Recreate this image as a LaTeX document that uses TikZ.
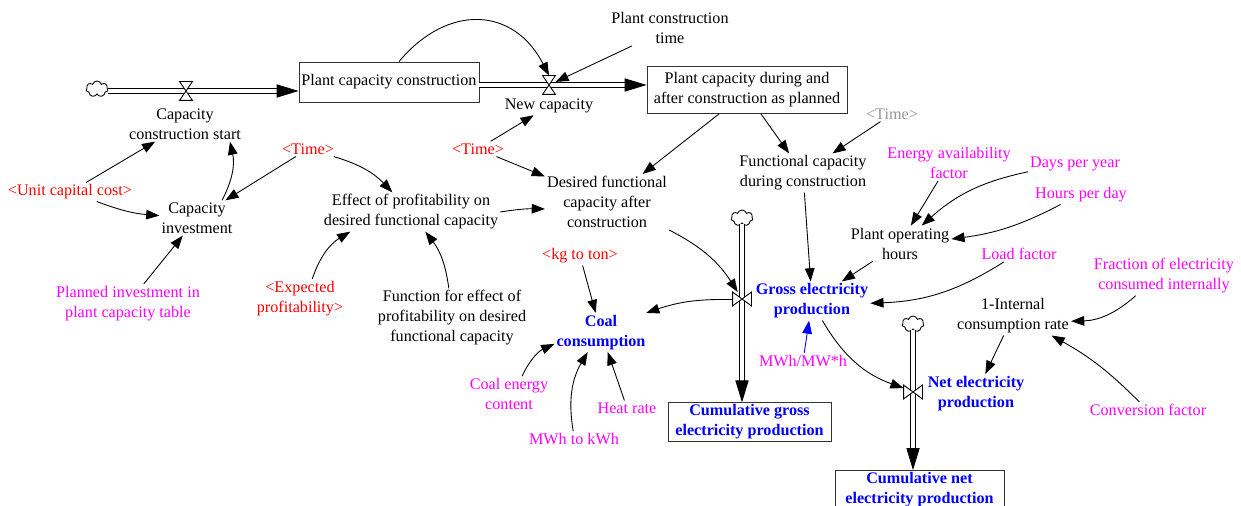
\documentclass[tikz,border=0pt]{standalone}
\usepackage{fontspec}
\setmainfont{Liberation Serif}
\usetikzlibrary{arrows.meta,shapes.symbols}
\definecolor{vred}{RGB}{255,0,0}
\definecolor{vmag}{RGB}{255,0,255}
\definecolor{vblue}{RGB}{0,0,255}
\definecolor{vgrey}{RGB}{150,150,150}
\begin{document}
\begin{tikzpicture}[x=0.02cm, y=0.02cm, ->, >={Triangle[length=7.5pt,width=5.5pt]}, line width=0.5pt,
    every node/.style={font=\fontsize{9.2}{11.4}\selectfont, align=center, inner sep=1pt},
    ghost/.style={text=vred},
    greyghost/.style={text=vgrey},
    const/.style={text=vmag},
    flowvar/.style={text=vblue, font=\fontsize{9.2}{11.4}\selectfont\bfseries},
    stock/.style={draw=black!80, minimum height=0.8cm},
    src/.style={cloud, cloud puffs=7, draw, minimum width=0.44cm, minimum height=0.32cm, inner sep=0},
    hvalve/.style={minimum width=0.24cm, minimum height=0.36cm, inner sep=0},
    vvalve/.style={minimum width=0.36cm, minimum height=0.26cm, inner sep=0},
    pipe/.style={double, double distance=2.2pt, -{Triangle[length=12.5pt,width=7.5pt]}}]
    \useasboundingbox (0,0) rectangle (1241,506);
    %stocks
    \node[stock, minimum width=3.6cm] at (389,424) (pcc) {Plant capacity construction};
    \node[stock, minimum width=4cm, minimum height=0.94cm] at (747,416) (pcdac) {Plant capacity during and\\after construction as planned};
    \node[stock, flowvar, minimum width=3.26cm, minimum height=0.76cm] at (749.5,84) (cgep) {Cumulative gross\\electricity production};
    \node[stock, flowvar, minimum width=3.38cm, minimum height=0.78cm] at (919.5,16) (cnep) {Cumulative net\\electricity production};
    %clouds and valves
    \node[src] at (97,417) (cl1) {};
    \node[src] at (742,288) (cl2) {};
    \node[src] at (913,182) (cl3) {};
    \node[hvalve] at (186,415) (v1) {};
    \node[hvalve] at (549,421) (v2) {};
    \node[vvalve] at (742,207) (v3) {};
    \node[vvalve] at (913,114) (v4) {};
    %variables
    \node at (185,382) (ccs) {Capacity\\construction start};
    \node at (549,400) (ncap) {New capacity};
    \node at (670,478) (pct) {Plant construction\\time};
    \node[ghost] at (478,357) (time1) {<Time>};
    \node at (607,304) (dfc) {Desired functional\\capacity after\\construction};
    \node[greyghost] at (892,392) (time3) {<Time>};
    \node at (803,333) (fcdc) {Functional capacity\\during construction};
    \node[ghost] at (308,357) (time2) {<Time>};
    \node[ghost] at (70,314) (ucc) {<Unit capital cost>};
    \node at (197,288) (ci) {Capacity\\investment};
    \node at (411,294) (eff) {Effect of profitability on\\desired functional capacity};
    \node[const] at (128,202.5) (pipt) {Planned investment in\\plant capacity table};
    \node[ghost] at (300,207.5) (ep) {<Expected\\profitability>};
    \node at (452,188) (fep) {Function for effect of\\profitability on desired\\functional capacity};
    \node[flowvar] at (812,205) (gep) {Gross electricity\\production};
    \node[flowvar] at (601,173.5) (cc) {Coal\\consumption};
    \node[ghost] at (580,250) (kg) {<kg to ton>};
    \node[const] at (509,112) (cec) {Coal energy\\content};
    \node[const] at (574,67) (mk) {MWh to kWh};
    \node[const] at (627,98) (hr) {Heat rate};
    \node[const] at (803,145) (mm) {MWh/MW*h};
    \node[flowvar] at (976,112.5) (nep) {Net electricity\\production};
    \node[const] at (949,343) (eaf) {Energy availability\\factor};
    \node[const] at (1075,342) (dpy) {Days per year};
    \node[const] at (1081,311) (hpd) {Hours per day};
    \node at (900,262.5) (poh) {Plant operating\\hours};
    \node[const] at (1019,252) (lf) {Load factor};
    \node at (1013,190) (icr) {1-Internal\\consumption rate};
    \node[const] at (1164,230) (fec) {Fraction of electricity\\consumed internally};
    \node[const] at (1148,96) (cf) {Conversion factor};
    %pipes
    \draw[pipe] (cl1.east |- v1) -- (pcc.west |- v1);
    \draw[pipe] (pcc.east |- v2) -- (pcdac.west |- v2);
    \draw[pipe] (cl2.south) -- (v3 |- cgep.north);
    \draw[pipe] (cl3.south) -- (v4 |- cnep.north);
    \foreach \v in {v1,v2}
        \draw[-, fill=white] (\v.north west) -- (\v.north east) -- (\v.south west) -- (\v.south east) -- cycle;
    \foreach \v in {v3,v4}
        \draw[-, fill=white] (\v.north west) -- (\v.south west) -- (\v.north east) -- (\v.south east) -- cycle;
    %links
    \draw ([xshift=0.2cm]pcc.north) to[out=50, in=117, looseness=1.3] (v2.north);
    \path
        (pct) edge (v2)
        (time1) edge (ncap)
        (time1) edge (dfc)
        ([xshift=-0.56cm]pcdac.south) edge (dfc)
        ([xshift=0.28cm]pcdac.south) edge (fcdc)
        (time3) edge (fcdc)
        (time2) edge (ci)
        (time2) edge[bend left=15] (eff)
        (ucc) edge (ccs)
        (ucc) edge[bend right=8] (ci)
        ([xshift=0.5cm]ci.north) edge[bend right=20] ([xshift=0.9cm]ccs.south)
        (eff.east) edge[bend left=5] ([yshift=-0.14cm]dfc.west)
        (pipt) edge (ci)
        (ep) edge[bend left=20] (eff)
        (fep) edge[bend right=15] (eff)
        (dfc.south east) edge[bend left=15] (v3)
        (v3) edge[bend right=10] (cc)
        (kg) edge (cc)
        (cec) edge[bend left=20] (cc)
        (mk) edge[bend left=20] (cc)
        (hr) edge (cc)
        (mm) edge[vblue] (gep)
        (fcdc) edge (gep)
        (eaf) edge (poh)
        (dpy) edge[bend right=15] (poh)
        (hpd) edge[bend left=10] (poh)
        (poh) edge (gep)
        (lf) edge[bend left=15] (gep)
        (gep) edge[bend right=20] (v4)
        (icr) edge (nep)
        (fec) edge[bend left=20] (icr)
        (cf) edge[bend right=8] (icr);
\end{tikzpicture}
\end{document}
